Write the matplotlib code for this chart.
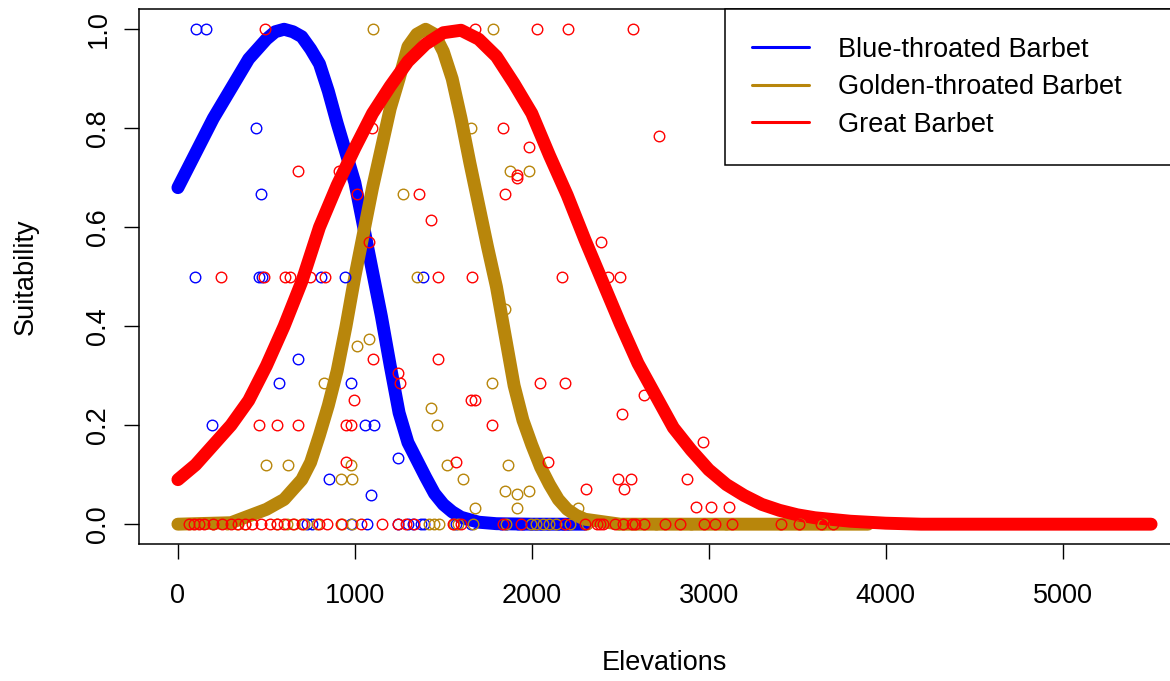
import matplotlib
matplotlib.use('Agg')
import matplotlib.pyplot as plt

# fitted suitability curves
blue_curve_x = [0, 100, 200, 300, 400, 450, 500, 550, 600, 650, 700, 750, 800, 850, 900,
                950, 1000, 1050, 1100, 1150, 1200, 1250, 1300, 1350, 1400, 1450, 1500,
                1550, 1600, 1700, 1800, 2000, 2300]
blue_curve_y = [0.68, 0.75, 0.82, 0.88, 0.94, 0.96, 0.98, 0.995, 1.0, 0.995, 0.985, 0.96,
                0.93, 0.875, 0.81, 0.75, 0.69, 0.60, 0.51, 0.42, 0.32, 0.225, 0.165, 0.13,
                0.095, 0.062, 0.04, 0.025, 0.014, 0.004, 0.001, 0.0, 0.0]

gold_curve_x = [0, 300, 500, 600, 700, 750, 800, 850, 900, 950, 1000, 1050, 1100, 1150,
                1200, 1250, 1300, 1350, 1400, 1450, 1500, 1550, 1600, 1650, 1700, 1750,
                1800, 1850, 1900, 1950, 2000, 2050, 2100, 2150, 2200, 2250, 2300, 2500, 3900]
gold_curve_y = [0.0, 0.003, 0.03, 0.05, 0.09, 0.125, 0.18, 0.24, 0.31, 0.40, 0.5, 0.59,
                0.68, 0.76, 0.84, 0.90, 0.965, 0.99, 1.0, 0.99, 0.955, 0.90, 0.82, 0.73,
                0.645, 0.56, 0.48, 0.38, 0.28, 0.21, 0.16, 0.115, 0.08, 0.05, 0.03, 0.018,
                0.01, 0.0, 0.0]

red_curve_x = [0, 100, 200, 300, 400, 500, 600, 700, 800, 900, 1000, 1100, 1200, 1300,
               1400, 1500, 1600, 1700, 1800, 1900, 2000, 2100, 2200, 2300, 2400, 2500,
               2600, 2700, 2800, 2900, 3000, 3100, 3200, 3300, 3400, 3500, 3600, 3800,
               4000, 4200, 5500]
red_curve_y = [0.09, 0.12, 0.16, 0.20, 0.25, 0.32, 0.40, 0.49, 0.60, 0.685, 0.76, 0.83,
               0.885, 0.935, 0.97, 0.993, 0.998, 0.98, 0.945, 0.89, 0.83, 0.745, 0.665,
               0.575, 0.49, 0.405, 0.325, 0.26, 0.195, 0.15, 0.11, 0.08, 0.058, 0.04,
               0.028, 0.019, 0.013, 0.006, 0.002, 0.0, 0.0]

# observed points
blue_x = [100, 157, 441, 471, 96, 461, 475, 810, 944, 1383, 681, 569, 976, 195, 1057, 1107,
          1241, 853, 1094,
          730, 759, 976, 1071, 1241, 1298, 1326, 1373, 1392, 1572, 1657, 1827, 1856, 1922,
          1950, 1998, 2026, 2054, 2092, 2149, 2177, 2205]
blue_y = [1.0, 1.0, 0.8, 0.667, 0.5, 0.5, 0.5, 0.5, 0.5, 0.5, 0.333, 0.286, 0.286, 0.2, 0.2,
          0.2, 0.133, 0.091, 0.059] + [0.0] * 22

gold_x = [1105, 1778, 1657, 1877, 1984, 1274, 1351, 1850, 1082, 1014, 825, 1776, 1467, 1430,
          499, 620, 976, 1519, 1865, 919, 986, 1610, 1846, 1918, 1987, 1680, 1918, 2259,
          200, 276, 333, 380, 560, 616, 654, 711, 787, 929, 986, 1420, 1449, 1477, 1562,
          1582, 1667, 1856, 1998, 2026, 2064, 2100, 2138, 2215, 2310, 2490, 2700, 2900,
          3100, 3405, 3513, 3643]
gold_y = [1.0, 1.0, 0.8, 0.714, 0.714, 0.667, 0.5, 0.435, 0.375, 0.36, 0.286, 0.286, 0.2,
          0.235, 0.12, 0.12, 0.12, 0.12, 0.12, 0.091, 0.091, 0.091, 0.067, 0.061, 0.067,
          0.032, 0.032, 0.032] + [0.0] * 32

red_x = [492, 1680, 2028, 2204, 2571, 1099, 1837, 2718, 1984, 679, 910, 1918, 1918, 1014,
         1361, 1850, 1430, 1082, 2393,
         242, 484, 607, 632, 749, 831, 1472, 1661, 2173, 2432, 2499,
         1105, 1472, 1241, 1255, 2045, 2187, 2632, 995, 1657, 1680, 2508,
         461, 560, 681, 950, 980, 1776,
         2966, 948, 1572, 2091, 2489, 2561, 2877, 2304, 2521, 2928, 3015, 3117,
         60, 90, 120, 150, 200, 250, 300, 340, 380, 420, 470, 520, 560, 600, 650, 700,
         795, 844, 920, 1033, 1156, 1241, 1288, 1335, 1553, 1600, 1837, 1940, 2187, 2300,
         2366, 2383, 2404, 2470, 2518, 2564, 2584, 2632, 2754, 2839, 2972, 3038, 3133,
         3407, 3511, 3634, 3700]
red_y = [1.0, 1.0, 1.0, 1.0, 1.0, 0.8, 0.8, 0.784, 0.763, 0.714, 0.714, 0.706, 0.7, 0.667,
         0.667, 0.667, 0.615, 0.571, 0.571,
         0.5, 0.5, 0.5, 0.5, 0.5, 0.5, 0.5, 0.5, 0.5, 0.5, 0.5,
         0.333, 0.333, 0.305, 0.286, 0.286, 0.286, 0.261, 0.25, 0.25, 0.25, 0.222,
         0.2, 0.2, 0.2, 0.2, 0.2, 0.2,
         0.167, 0.125, 0.125, 0.125, 0.091, 0.091, 0.091, 0.071, 0.071, 0.034, 0.034,
         0.034] + [0.0] * 47

species = ['Blue-throated Barbet', 'Golden-throated Barbet', 'Great Barbet']
colors = ['#0000FF', '#B8860B', '#FF0000']

plt.rcParams['font.family'] = ['Liberation Sans', 'DejaVu Sans']

fig = plt.figure(figsize=(11.7, 6.81), dpi=100)
ax = fig.add_axes([0.1188, 0.2012, 0.8983, 0.7849])

curves = [(blue_curve_x, blue_curve_y), (gold_curve_x, gold_curve_y), (red_curve_x, red_curve_y)]
for (cx, cy), col, name in zip(curves, colors, species):
    ax.plot(cx, cy, color=col, lw=9.3, solid_capstyle='round', solid_joinstyle='round',
            label=name, zorder=2)

points = [(blue_x, blue_y), (gold_x, gold_y), (red_x, red_y)]
for (px, py), col in zip(points, colors):
    ax.plot(px, py, 'o', ms=7.6, mfc='none', mec=col, mew=1.0, zorder=3)

ax.set_xlim(-220, 5720)
ax.set_ylim(-0.04, 1.04)
ax.set_xticks([0, 1000, 2000, 3000, 4000, 5000])
ax.set_yticks([0.0, 0.2, 0.4, 0.6, 0.8, 1.0])
ax.set_yticklabels(['0.0', '0.2', '0.4', '0.6', '0.8', '1.0'], rotation=90, va='center')
ax.tick_params(axis='both', labelsize=19.5, length=10.8, width=1.0, color='black')
ax.tick_params(axis='x', pad=17)
ax.tick_params(axis='y', pad=9)
for s in ax.spines.values():
    s.set_linewidth(1.1)
    s.set_color('black')

ax.set_xlabel('Elevations', fontsize=19.5)
ax.set_ylabel('Suitability', fontsize=19.5)
ax.xaxis.set_label_coords(0.5, -0.198)
ax.yaxis.set_label_coords(-0.095, 0.5)

leg = ax.legend(loc='upper left', bbox_to_anchor=(0.5576, 0.0, 0.4424, 1.0), mode='expand',
                borderaxespad=0, fontsize=19.5, frameon=True, fancybox=False,
                edgecolor='black', framealpha=1, borderpad=1.0, labelspacing=0.43,
                handlelength=2.1, handletextpad=1.07)
leg.get_frame().set_linewidth(1.1)
for line in leg.get_lines():
    line.set_linewidth(2.2)

plt.savefig('out.png', dpi=100)
